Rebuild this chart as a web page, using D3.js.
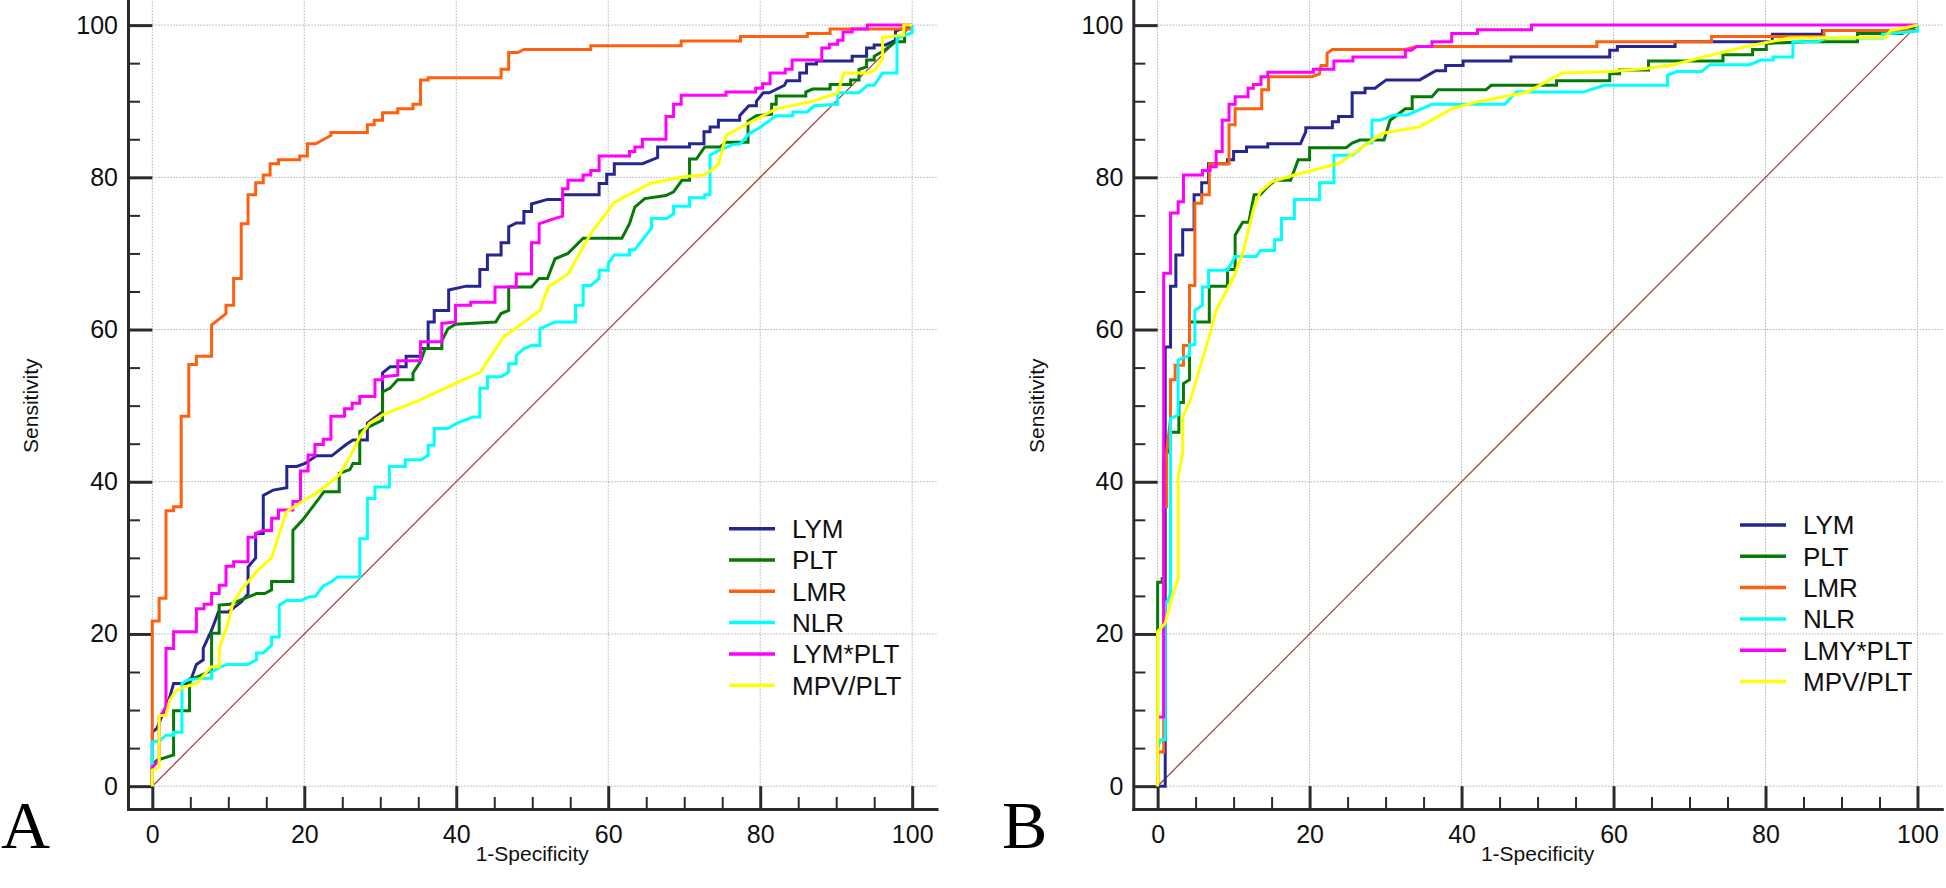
<!DOCTYPE html>
<html>
<head>
<meta charset="utf-8">
<script src="https://cdn.jsdelivr.net/npm/d3@7/dist/d3.min.js"></script>
<style>
  body { margin: 0; background: #fff; }
  svg { display: block; font-family: "Liberation Sans", Arial, sans-serif; }
</style>
</head>
<body>
<svg id="chart" width="1946" height="888"></svg>
<script>
// ---- DATA ----
const majorTicks = [0, 20, 40, 60, 80, 100];
const minorTicks = [5, 10, 15, 25, 30, 35, 45, 50, 55, 65, 70, 75, 85, 90, 95];

const namesA = ["LYM", "PLT", "LMR", "NLR", "LYM*PLT", "MPV/PLT"];
const namesB = ["LYM", "PLT", "LMR", "NLR", "LMY*PLT", "MPV/PLT"];
const colors = ["#262690", "#067a06", "#ff6010", "#00ffff", "#ff00ff", "#ffff00"];

// panel A curves: [1-specificity, sensitivity]
const A_LYM = [[0,0],[0,7.1],[0.6,7.6],[2.3,11.7],[2.8,13.5],[4.9,13.5],[5.8,16.0],[6.7,16.6],[6.7,18.1],[7.8,20.5],[8.7,22.9],[10.0,22.9],[11.7,24.2],[12.6,25.3],[12.6,28.8],[13.6,30.0],[13.6,33.2],[14.6,33.2],[14.6,38.2],[15.9,38.9],[17.7,39.2],[17.7,42.0],[19.0,42.0],[20.1,42.4],[21.6,43.4],[23.6,43.4],[25.5,44.9],[26.4,45.5],[28.3,45.5],[28.3,47.7],[30.3,49.2],[30.3,54.3],[31.3,55.1],[33.4,55.1],[33.4,56.5],[35.3,56.5],[35.3,57.5],[36.3,57.5],[36.3,61.0],[37.1,61.0],[37.1,62.5],[39.0,62.5],[39.0,65.2],[41.3,65.7],[43.1,65.7],[43.1,67.9],[44.1,67.9],[44.1,69.8],[45.9,69.8],[45.9,71.4],[46.9,71.4],[46.9,73.5],[47.9,74.0],[48.9,74.0],[48.9,75.5],[49.9,75.5],[49.9,76.5],[52.0,77.1],[54.0,77.1],[54.0,77.7],[58.8,77.7],[58.8,79.2],[59.8,79.2],[59.8,80.4],[60.8,80.4],[60.8,81.8],[64.5,81.8],[66.5,82.6],[66.5,84.0],[70.7,84.0],[70.7,84.4],[72.6,84.4],[72.6,86.0],[73.4,86.0],[73.4,86.6],[74.5,86.6],[74.5,87.5],[77.3,87.5],[77.3,88.1],[78.5,89.4],[79.5,89.4],[79.5,90.0],[80.4,91.1],[81.2,91.1],[83.2,92.1],[83.5,92.7],[85.2,92.7],[85.2,93.7],[86.1,93.7],[86.1,94.9],[87.4,94.9],[87.4,95.3],[92.1,95.3],[92.1,95.9],[94.0,95.9],[94.0,97.0],[95.0,97.0],[95.0,97.4],[96.5,97.4],[97.8,98.0],[97.8,99.2],[100,100]];
const A_PLT = [[0,0],[0,2.8],[0.6,3.4],[2.8,4.1],[2.8,9.9],[4.9,9.9],[4.9,14.1],[5.8,14.3],[7.8,15.2],[7.8,20.1],[8.8,20.1],[8.8,23.8],[10.2,23.9],[13.7,25.3],[14.8,25.3],[15.7,25.8],[15.7,26.9],[18.5,26.9],[18.5,33.6],[19.8,35.0],[21.4,37.1],[22.6,38.7],[24.6,38.7],[24.6,41.1],[26.0,41.6],[26.4,42.4],[27.3,42.4],[27.3,46.6],[30.3,48.1],[30.3,51.8],[31.3,52.3],[32.3,53.4],[34.3,53.4],[34.3,54.3],[35.3,55.8],[35.9,57.5],[38.1,57.5],[38.1,58.5],[38.9,60.1],[39.9,60.7],[45.2,61.0],[45.9,62.1],[46.9,62.5],[46.9,65.6],[49.9,65.6],[50.9,66.7],[52.0,66.7],[53.0,69.3],[54.7,70.0],[56.7,72.0],[61.8,72.0],[62.8,73.9],[63.5,76.1],[64.8,77.2],[67.6,77.6],[68.6,78.1],[69.7,79.6],[70.7,79.6],[70.7,82.4],[71.6,82.4],[72.7,84.0],[74.7,84.0],[75.5,84.6],[78.4,84.6],[78.4,87.4],[79.5,88.1],[81.5,88.3],[81.5,89.6],[82.1,89.6],[82.1,90.7],[86.0,90.7],[86.0,91.2],[86.9,91.6],[89.2,91.6],[89.2,92.2],[91.9,92.2],[91.9,92.8],[93.0,92.8],[93.0,94.2],[94.0,94.5],[94.0,95.4],[95.0,95.4],[95.0,95.9],[96.5,96.8],[97.8,97.8],[99.0,97.8],[99.0,99.5],[100,100]];
const A_LMR = [[0,0],[0,21.7],[0.9,21.7],[0.9,24.7],[1.8,24.7],[1.8,36.2],[2.8,36.2],[2.8,36.7],[3.8,36.7],[3.8,48.6],[4.8,48.6],[4.8,55.4],[5.8,55.4],[5.8,56.5],[7.8,56.5],[7.8,60.6],[9.7,62.1],[9.7,63.2],[10.7,63.2],[10.7,66.7],[11.7,66.7],[11.7,73.9],[12.6,73.9],[12.6,77.7],[13.6,77.7],[13.6,79.3],[14.6,79.3],[14.6,80.3],[15.5,80.3],[15.5,81.8],[16.6,81.8],[16.6,82.3],[19.4,82.3],[19.4,82.8],[20.4,82.8],[20.4,84.4],[21.5,84.4],[23.5,85.5],[23.5,85.9],[28.3,85.9],[28.3,86.9],[29.2,86.9],[29.2,87.5],[30.3,87.5],[30.3,88.5],[32.3,88.5],[32.3,89.0],[34.3,89.0],[34.3,89.6],[35.3,89.6],[35.3,92.8],[36.3,92.8],[36.3,93.1],[45.9,93.1],[45.9,94.2],[46.9,94.2],[46.9,96.4],[48.1,96.4],[48.9,96.8],[57.7,96.8],[57.7,97.3],[69.6,97.3],[69.6,97.9],[77.4,97.9],[77.4,98.5],[86.2,98.5],[86.2,98.9],[89.2,98.9],[89.2,99.5],[99.8,99.5],[100,100]];
const A_NLR = [[0,0],[0,5.8],[1.0,6.0],[1.8,6.7],[2.8,6.7],[2.8,7.1],[3.9,7.1],[3.9,13.5],[4.7,14.0],[7.8,14.2],[7.8,15.0],[8.9,15.6],[9.8,16.0],[12.6,16.0],[13.7,16.6],[13.7,17.5],[14.6,17.5],[15.7,18.5],[15.7,19.6],[16.7,19.6],[16.7,23.8],[17.7,24.4],[19.6,24.4],[20.7,24.9],[21.4,24.9],[22.5,26.3],[23.6,26.9],[24.4,27.5],[27.3,27.5],[27.3,32.5],[28.3,32.5],[28.3,37.8],[29.3,37.8],[29.3,39.3],[31.2,39.3],[31.2,42.0],[33.3,42.0],[33.3,42.9],[35.4,42.9],[36.3,43.5],[36.3,44.8],[37.1,44.8],[37.1,47.0],[38.9,47.0],[40.1,47.7],[42.2,48.5],[43.1,48.5],[43.1,52.3],[44.1,52.3],[44.1,53.8],[45.9,53.8],[46.9,54.4],[46.9,55.5],[47.9,55.5],[47.9,56.6],[48.9,57.5],[49.9,57.9],[51.0,57.9],[51.0,60.1],[53.0,61.0],[55.7,61.0],[55.7,63.2],[56.7,63.2],[56.7,65.8],[57.7,65.8],[58.8,66.7],[58.8,67.8],[60.0,67.8],[60.0,68.7],[60.8,69.8],[62.8,69.8],[62.8,70.5],[63.5,70.5],[64.5,71.8],[65.7,73.3],[65.7,74.6],[67.7,74.6],[68.6,75.2],[68.6,76.2],[70.7,76.2],[70.7,77.3],[72.7,77.3],[72.7,77.7],[73.4,77.7],[73.4,82.9],[74.7,83.6],[76.4,84.3],[77.4,84.4],[78.5,85.7],[79.9,86.5],[82.1,88.1],[84.3,88.1],[84.3,88.6],[86.2,88.6],[87.1,89.4],[90.2,89.6],[90.2,91.1],[93.0,91.1],[94.1,92.1],[95.0,92.1],[96.1,93.7],[98.0,93.7],[98.0,98.3],[100,99.0],[100,100]];
const A_LYMPLT = [[0,0],[0,2.5],[0.9,3.4],[0.9,9.0],[1.8,10.4],[1.8,18.1],[2.8,18.1],[2.8,20.3],[5.8,20.3],[5.8,23.3],[6.8,23.3],[6.8,23.9],[7.8,23.9],[7.8,25.3],[8.8,25.3],[8.8,26.4],[9.7,26.4],[9.7,28.9],[10.7,28.9],[10.7,29.5],[12.6,29.5],[12.6,32.7],[13.6,32.7],[13.6,33.2],[14.6,33.6],[15.7,33.6],[15.7,35.2],[16.6,35.2],[16.6,36.3],[18.5,36.3],[18.5,37.4],[19.5,37.4],[19.5,41.4],[20.5,41.4],[20.5,43.5],[21.4,43.5],[21.4,44.9],[22.5,44.9],[22.5,45.6],[23.5,45.6],[23.5,48.6],[25.3,48.6],[25.3,49.6],[26.3,49.6],[26.3,50.3],[27.3,50.3],[27.3,51.2],[29.3,51.2],[29.3,53.4],[30.3,53.4],[30.3,53.8],[32.3,54.0],[32.3,55.9],[35.3,55.9],[35.3,58.4],[38.1,58.4],[38.1,60.8],[39.9,61.0],[39.9,63.2],[41.9,63.2],[41.9,63.6],[45.1,63.6],[45.1,65.6],[47.9,65.6],[47.9,67.3],[49.9,67.3],[49.9,71.4],[50.9,71.4],[50.9,73.9],[52.7,74.5],[54.0,74.9],[54.0,78.5],[54.7,78.5],[54.7,79.6],[56.7,79.6],[56.7,80.3],[57.7,80.3],[57.7,80.9],[58.8,80.9],[58.8,82.8],[62.8,82.8],[62.8,83.4],[63.5,83.4],[63.5,84.0],[64.5,84.0],[64.5,85.0],[67.6,85.0],[67.6,88.0],[68.6,88.0],[68.6,89.6],[69.6,89.6],[69.6,90.8],[75.5,90.8],[75.5,91.2],[79.4,91.2],[79.4,91.7],[80.3,91.7],[80.3,92.3],[81.3,92.3],[81.3,93.7],[83.3,93.7],[83.3,94.2],[84.2,94.2],[84.2,95.4],[88.1,95.4],[88.1,97.0],[89.1,97.0],[89.1,97.5],[90.2,97.5],[90.2,98.0],[90.9,98.0],[90.9,99.1],[92.1,99.1],[92.1,99.5],[94.1,99.5],[94.1,100],[100,100]];
const A_MPVPLT = [[0,0],[0,2.1],[0.9,2.5],[0.9,9.3],[1.8,9.3],[2.3,11.3],[3.0,12.4],[4.1,13.0],[5.8,13.5],[6.8,14.6],[7.8,15.7],[8.8,15.7],[8.8,18.1],[9.8,20.9],[10.6,24.0],[11.7,25.8],[13.9,28.4],[15.7,30.0],[16.6,32.8],[17.6,36.0],[19.4,37.2],[21.4,38.4],[23.3,39.8],[24.6,40.9],[26.0,43.3],[27.3,45.9],[28.6,47.7],[30.3,48.8],[35.1,50.7],[37.9,52.0],[43.2,54.4],[46.2,59.0],[51.0,62.5],[52.1,65.6],[54.7,67.3],[57.7,72.6],[60.8,76.7],[65.5,79.2],[70.1,80.1],[72.5,80.3],[73.4,80.8],[74.5,81.7],[75.5,85.5],[78.6,87.2],[82.1,89.0],[86.9,90.0],[90.2,91.1],[91.0,93.7],[94.3,93.7],[95.2,94.2],[96.1,95.6],[96.1,98.4],[98.9,98.7],[98.9,100],[100,100]];

// panel B curves
const B_LYM = [[0,0],[1.0,0],[1.0,57.7],[1.7,57.7],[1.7,65.7],[2.4,65.7],[2.4,69.8],[3.3,69.8],[3.3,73.1],[4.8,73.1],[4.8,77.7],[5.8,77.7],[5.8,79.3],[6.7,79.3],[6.7,81.8],[9.2,81.8],[9.2,82.3],[10.0,82.3],[10.0,83.4],[11.7,83.4],[11.7,84.0],[14.5,84.0],[14.5,84.4],[18.8,84.4],[19.5,86.0],[19.5,86.5],[23.0,86.5],[23.0,87.3],[23.8,87.3],[23.8,88.0],[25.6,88.0],[25.6,91.1],[27.3,91.1],[27.3,91.7],[28.6,91.7],[30.1,92.8],[34.5,92.8],[36.6,94.0],[37.9,94.0],[37.9,94.7],[40.2,94.7],[40.2,95.3],[46.5,95.3],[46.5,95.8],[59.5,95.8],[59.5,96.7],[60.5,96.7],[60.5,97.2],[68.1,97.2],[68.1,97.8],[80.9,97.8],[80.9,98.8],[87.5,98.8],[87.5,99.3],[100,99.3],[100,100]];
const B_PLT = [[0,0],[0,26.8],[0.6,26.8],[0.6,27.3],[0.8,27.3],[0.8,43.0],[1.1,43.5],[1.6,44.4],[1.6,46.5],[2.8,46.5],[2.8,50.4],[3.4,50.4],[3.4,52.9],[4.2,53.4],[4.2,61.0],[6.8,61.0],[6.8,65.7],[9.2,65.7],[9.2,67.9],[10.2,67.9],[10.2,72.4],[11.2,74.1],[12.0,74.1],[12.7,77.7],[13.5,77.7],[14.5,78.8],[15.5,79.6],[17.5,79.6],[18.5,82.3],[20.0,82.3],[20.0,83.9],[24.8,83.9],[25.6,84.5],[26.6,84.9],[29.8,84.9],[30.6,87.5],[32.6,89.0],[33.5,89.0],[33.5,90.6],[36.1,90.6],[36.9,91.5],[43.2,91.5],[43.9,92.1],[52.5,92.1],[52.5,92.7],[59.5,92.7],[59.5,93.6],[60.8,93.6],[60.8,94.1],[64.6,94.1],[64.6,95.3],[74.4,95.3],[74.4,96.1],[78.3,96.1],[78.3,96.8],[80.1,96.8],[80.1,97.6],[85.3,97.8],[92.1,97.8],[92.1,98.9],[98.0,98.9],[100,100]];
const B_LMR = [[0,0],[0,4.5],[0.8,4.5],[0.8,36.7],[1.2,36.7],[1.2,44.0],[1.7,48.3],[1.7,53.4],[2.3,53.4],[2.3,55.3],[3.4,55.3],[3.4,57.9],[4.2,57.9],[4.2,65.8],[4.9,65.8],[4.9,76.6],[5.8,76.6],[5.8,77.7],[6.8,77.7],[6.8,81.8],[9.4,81.8],[9.4,86.9],[10.2,86.9],[10.2,89.0],[13.7,89.0],[13.7,91.5],[14.6,91.5],[14.6,93.2],[20.3,93.2],[21.3,93.6],[21.5,94.7],[22.3,94.7],[22.3,96.3],[23.0,96.8],[32.6,96.8],[34.1,97.2],[57.8,97.2],[57.8,97.8],[72.9,97.8],[72.9,98.5],[87.7,98.5],[87.7,99.3],[100,99.3],[100,100]];
const B_NLR = [[0,0],[0,5.0],[0.4,6.1],[1.0,6.1],[1.0,24.2],[1.3,24.2],[1.7,25.3],[1.7,48.3],[2.7,48.8],[2.7,56.0],[4.2,56.6],[4.2,58.0],[4.9,58.0],[4.9,62.5],[5.9,63.2],[5.9,65.6],[6.7,65.6],[6.7,67.8],[9.2,67.8],[10.2,69.6],[13.0,69.6],[13.5,70.4],[15.4,70.4],[15.4,71.8],[16.3,71.8],[16.3,74.6],[18.0,74.6],[18.0,77.1],[21.3,77.1],[21.3,79.3],[23.2,79.3],[23.2,82.9],[25.6,82.9],[27.6,84.5],[28.2,84.5],[28.2,87.5],[29.3,87.5],[31.1,88.2],[32.9,88.2],[36.1,89.6],[45.7,89.6],[47.2,91.2],[56.0,91.2],[58.8,92.1],[67.1,92.1],[67.1,93.4],[68.3,93.9],[71.6,93.9],[72.7,94.8],[77.9,94.8],[79.4,95.4],[81.0,95.4],[81.0,95.8],[83.6,95.8],[83.6,97.8],[86.9,97.8],[88.0,98.3],[95.4,98.3],[95.4,98.8],[100,99.2],[100,100]];
const B_LMYPLT = [[0,0],[0,9.1],[0.8,9.1],[0.8,67.4],[1.7,67.4],[1.7,75.3],[2.7,75.3],[2.7,76.8],[3.4,76.8],[3.4,80.3],[5.9,80.3],[5.9,80.9],[6.9,80.9],[6.9,81.4],[7.7,81.4],[7.7,83.4],[8.5,83.4],[8.5,87.5],[9.4,87.5],[9.4,89.6],[10.2,89.6],[10.2,90.6],[11.9,90.6],[11.9,91.7],[12.6,91.7],[12.6,92.2],[13.6,92.2],[13.6,93.2],[14.5,93.2],[14.5,93.8],[20.5,93.8],[20.5,94.2],[23.2,94.2],[23.2,95.3],[25.7,95.3],[25.7,95.8],[32.6,95.8],[32.6,96.7],[33.4,96.7],[34.1,97.2],[36.1,97.2],[36.1,97.8],[38.7,97.8],[38.7,98.9],[42.1,98.9],[42.1,99.4],[49.2,99.4],[49.2,100],[100,100]];
const B_MPVPLT = [[0,0],[0,20.3],[1.0,21.4],[1.9,24.9],[2.7,27.3],[2.7,40.7],[3.3,43.7],[3.3,48.5],[4.3,50.7],[6.9,59.5],[7.7,62.5],[10.0,66.9],[11.2,70.0],[12.7,76.1],[13.5,78.1],[15.0,79.4],[18.0,80.3],[23.8,81.8],[29.6,85.8],[34.4,86.6],[38.7,89.0],[41.9,89.9],[48.7,91.2],[53.2,93.7],[59.5,93.9],[64.3,94.3],[67.9,94.8],[72.2,95.9],[77.5,97.2],[83.1,98.3],[95.8,98.4],[96.5,99.3],[100,100]];

const diagonal = [[0,0],[100,100]];

// ---- DRAW ----
const svg = d3.select("#chart");

function drawPanel(left, letterX, letter, curves, names, legendX, legendY) {
  var x = d3.scaleLinear().domain([-3.2, 103.2]).range([left, left + 808.5]);
  var y = d3.scaleLinear().domain([-3, 103.3]).range([809, 0]);

  var g = svg.append("g");

  // GRID
  g.selectAll(".gridX")
    .data(majorTicks)
    .enter()
    .append("line")
    .attr("x1", (d) => x(d))
    .attr("x2", (d) => x(d))
    .attr("y1", y(0))
    .attr("y2", y(103.3))
    .attr("stroke", "#b0b0b0")
    .attr("stroke-width", 1)
    .attr("stroke-dasharray", "1.5,1.5");

  g.selectAll(".gridY")
    .data(majorTicks)
    .enter()
    .append("line")
    .attr("x1", x(0))
    .attr("x2", x(103.2))
    .attr("y1", (d) => y(d))
    .attr("y2", (d) => y(d))
    .attr("stroke", "#b0b0b0")
    .attr("stroke-width", 1)
    .attr("stroke-dasharray", "1.5,1.5");

  // AXES
  var inner = x(0) - x(-3.2);

  var yAxis = g.append("g")
    .attr("transform", `translate(${x(-3.2)},0)`)
    .call(d3.axisLeft(y).tickValues(majorTicks).tickSize(-inner).tickSizeOuter(0).tickPadding(10));
  g.append("g")
    .attr("transform", `translate(${x(-3.2)},0)`)
    .call(d3.axisLeft(y).tickValues(minorTicks).tickSize(-12).tickSizeOuter(0).tickFormat(""))
    .select(".domain").remove();

  var xAxis = g.append("g")
    .attr("transform", `translate(0,${y(-3)})`)
    .call(d3.axisBottom(x).tickValues(majorTicks).tickSize(-(y(-3) - y(0))).tickSizeOuter(0).tickPadding(16));
  g.append("g")
    .attr("transform", `translate(0,${y(-3)})`)
    .call(d3.axisBottom(x).tickValues(minorTicks).tickSize(-12).tickFormat("").tickSizeOuter(0))
    .select(".domain").remove();

  g.selectAll(".domain")
    .attr("stroke", "#2b2b2b")
    .attr("stroke-width", 3)
    .attr("stroke-linecap", "square");
  g.selectAll(".tick line")
    .attr("stroke", "#2b2b2b")
    .attr("stroke-width", 2);
  yAxis.selectAll(".tick line").attr("stroke-width", 3);
  xAxis.selectAll(".tick line").attr("stroke-width", 3);
  g.selectAll(".tick text")
    .attr("font-size", 25)
    .attr("font-family", "Liberation Sans, Arial, sans-serif")
    .attr("fill", "#111");

  // AXIS TITLES
  g.append("text")
    .attr("transform", `translate(${left - 97},${y(50)}) rotate(-90)`)
    .attr("text-anchor", "middle")
    .attr("dy", "0.35em")
    .attr("font-size", 21)
    .attr("fill", "#111")
    .text("Sensitivity");

  g.append("text")
    .attr("x", x(50))
    .attr("y", 861)
    .attr("text-anchor", "middle")
    .attr("font-size", 21)
    .attr("fill", "#111")
    .text("1-Specificity");

  // DIAGONAL
  var line = d3.line()
    .x((d) => x(d[0]))
    .y((d) => y(d[1]));

  g.append("path")
    .attr("d", line(diagonal))
    .attr("fill", "none")
    .attr("stroke", "#a5483c")
    .attr("stroke-width", 1.3);

  // CURVES
  g.selectAll(".curve")
    .data(curves)
    .enter()
    .append("path")
    .attr("class", "curve")
    .attr("d", (d) => line(d))
    .attr("fill", "none")
    .attr("stroke", (d, i) => colors[i])
    .attr("stroke-width", 3)
    .attr("stroke-linejoin", "miter");

  // LEGEND
  var legend = g.append("g")
    .attr("transform", `translate(${legendX},${legendY})`);

  var rows = legend.selectAll(".row")
    .data(names)
    .enter()
    .append("g")
    .attr("transform", (d, i) => `translate(0,${i * 31.3})`);

  rows.append("line")
    .attr("x1", 0)
    .attr("x2", 46)
    .attr("y1", 0)
    .attr("y2", 0)
    .attr("stroke", (d, i) => colors[i])
    .attr("stroke-width", 3.5);

  rows.append("text")
    .attr("x", 63)
    .attr("y", 0)
    .attr("dy", "0.36em")
    .attr("font-size", 26)
    .attr("fill", "#111")
    .text((d) => d);

  // PANEL LETTER
  svg.append("text")
    .attr("x", letterX)
    .attr("y", 848)
    .attr("font-family", "Liberation Serif, Times New Roman, serif")
    .attr("font-size", 68)
    .attr("fill", "#000")
    .text(letter);
}

drawPanel(128, 1, "A",
  [A_LYM, A_PLT, A_LMR, A_NLR, A_LYMPLT, A_MPVPLT], namesA, 729, 528.7);
drawPanel(1133.3, 1002, "B",
  [B_LYM, B_PLT, B_LMR, B_NLR, B_LMYPLT, B_MPVPLT], namesB, 1740, 525);
</script>
</body>
</html>
